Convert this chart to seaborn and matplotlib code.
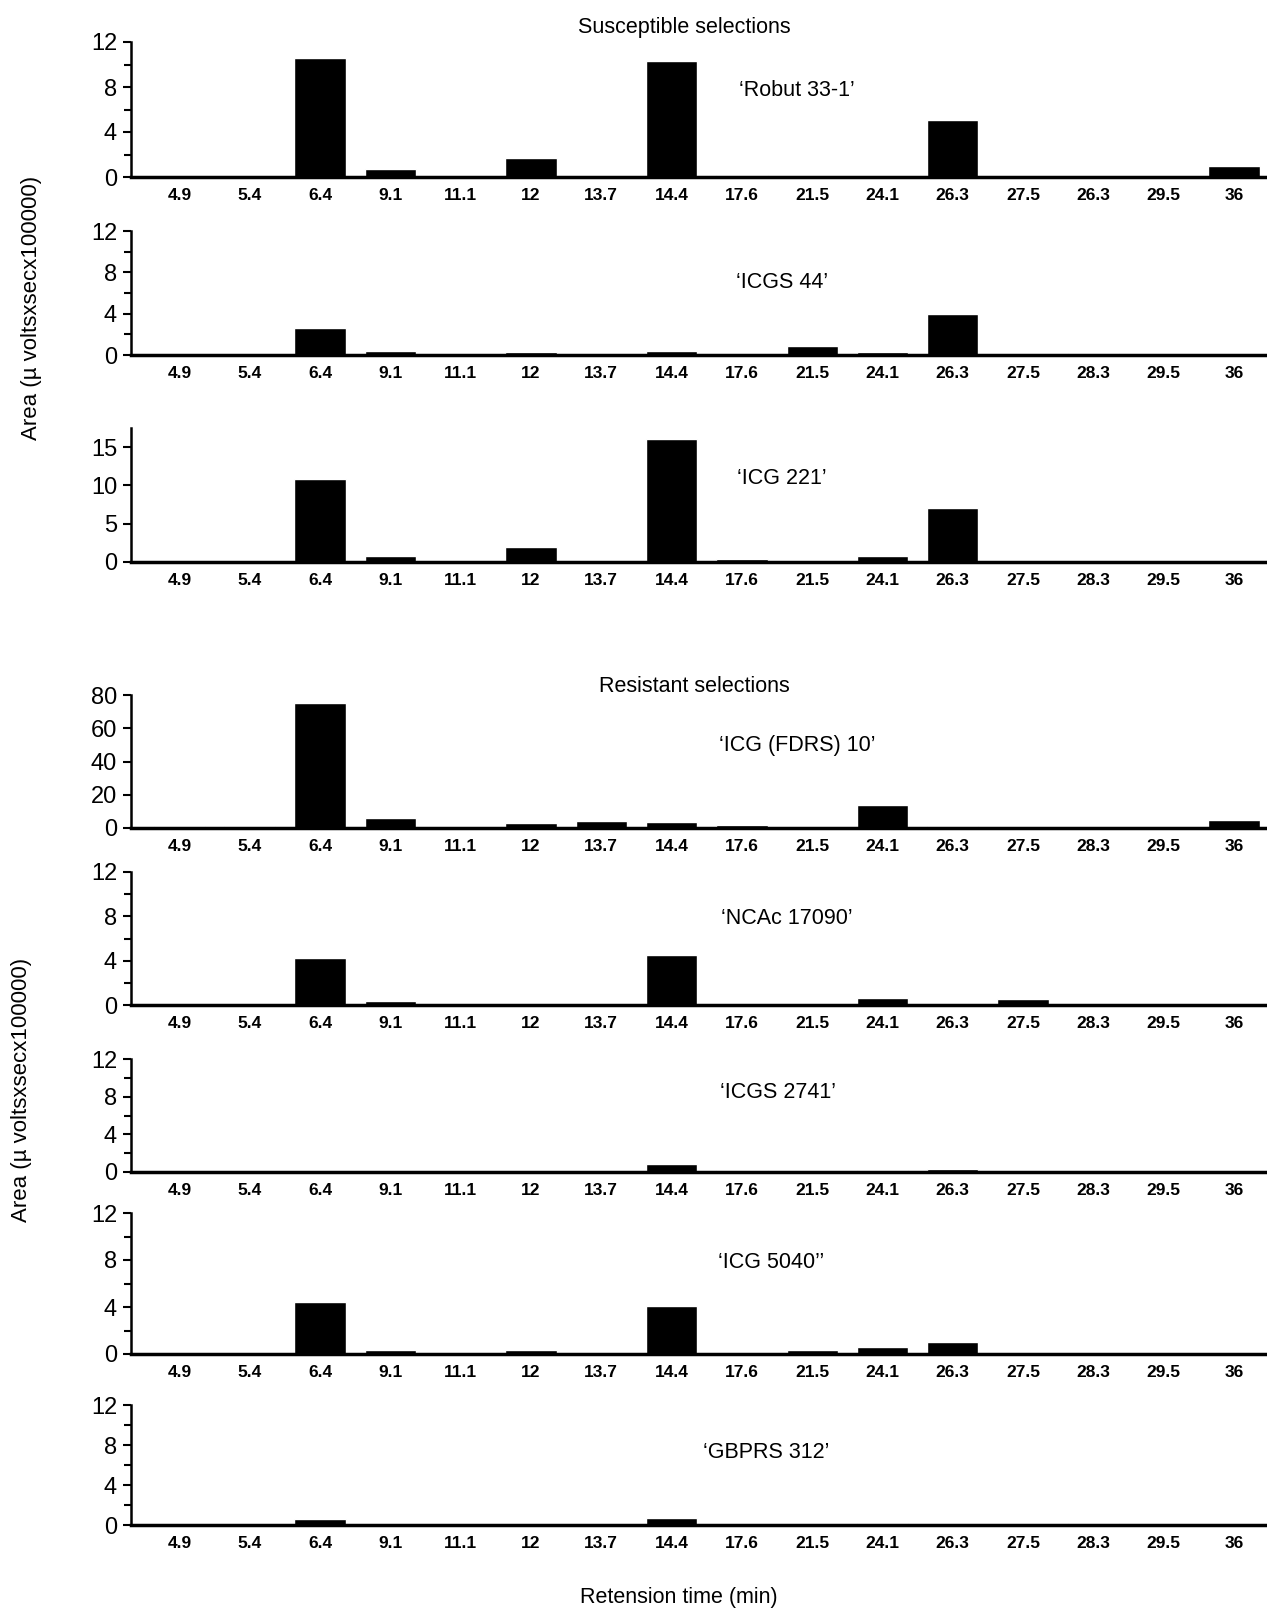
import numpy as np
import matplotlib
matplotlib.use('Agg')
import matplotlib.pyplot as plt
import seaborn as sns

sns.set_style('white')
plt.rcParams['font.family'] = ['Liberation Sans', 'DejaVu Sans']
plt.rcParams['text.color'] = 'black'
plt.rcParams['xtick.color'] = 'black'
plt.rcParams['ytick.color'] = 'black'

# retention-time labels (as printed under each panel)
labels_std = ['4.9', '5.4', '6.4', '9.1', '11.1', '12', '13.7', '14.4', '17.6',
              '21.5', '24.1', '26.3', '27.5', '28.3', '29.5', '36']
labels_p1 = ['4.9', '5.4', '6.4', '9.1', '11.1', '12', '13.7', '14.4', '17.6',
             '21.5', '24.1', '26.3', '27.5', '26.3', '29.5', '36']

# peak areas
robut_33_1 = [0.05, 0.05, 10.6, 0.7, 0.05, 1.7, 0.05, 10.3, 0.15, 0.05, 0.1, 5.1, 0.05, 0.05, 0.05, 1.0]
icgs_44 = [0.1, 0.05, 2.6, 0.4, 0.1, 0.3, 0.05, 0.4, 0.1, 0.9, 0.3, 4.0, 0.05, 0.2, 0.05, 0.05]
icg_221 = [0.05, 0.05, 10.8, 0.8, 0.05, 2.0, 0.05, 16.0, 0.4, 0.05, 0.8, 7.0, 0.05, 0.05, 0.05, 0.05]
icg_fdrs_10 = [1.0, 1.0, 75.0, 6.0, 0.5, 3.0, 4.0, 3.5, 2.0, 0.3, 14.0, 1.5, 0.5, 0.5, 0.5, 5.0]
ncac_17090 = [0.1, 0.05, 4.2, 0.4, 0.05, 0.1, 0.05, 4.5, 0.1, 0.05, 0.6, 0.05, 0.5, 0.05, 0.05, 0.05]
icgs_2741 = [0.05, 0.05, 0.05, 0.1, 0.05, 0.05, 0.05, 0.8, 0.2, 0.05, 0.2, 0.3, 0.05, 0.05, 0.1, 0.05]
icg_5040 = [0.1, 0.05, 4.4, 0.3, 0.1, 0.3, 0.05, 4.1, 0.05, 0.3, 0.6, 1.0, 0.05, 0.05, 0.05, 0.05]
gbprs_312 = [0.1, 0.05, 0.6, 0.05, 0.05, 0.05, 0.05, 0.7, 0.1, 0.05, 0.2, 0.05, 0.05, 0.2, 0.05, 0.05]

panel_names = ['\u2018Robut 33-1\u2019', '\u2018ICGS 44\u2019', '\u2018ICG 221\u2019',
               '\u2018ICG (FDRS) 10\u2019', '\u2018NCAc 17090\u2019', '\u2018ICGS 2741\u2019',
               '\u2018ICG 5040\u2019\u2019', '\u2018GBPRS 312\u2019']
panel_values = [robut_33_1, icgs_44, icg_221, icg_fdrs_10, ncac_17090, icgs_2741, icg_5040, gbprs_312]
panel_labels = [labels_p1] + [labels_std] * 7
panel_yticks = [[0, 4, 8, 12], [0, 4, 8, 12], [0, 5, 10, 15], [0, 20, 40, 60, 80],
                [0, 4, 8, 12], [0, 4, 8, 12], [0, 4, 8, 12], [0, 4, 8, 12]]

# layout (figure pixels: top of y range, baseline)
W, H = 1267, 1613
px_top = [42, 231, 428, 695, 872, 1059, 1213, 1405]
px_base = [177, 355, 562, 828, 1005, 1172, 1354, 1525]
ylims = [12, 12, 17.5, 80, 12, 12, 12, 12]
name_xy = [(797, 90), (782, 283), (782, 478), (797, 746), (787, 918), (778, 1093), (771, 1262), (766, 1453)]
left = 131

fig = plt.figure(figsize=(W / 100, H / 100), dpi=100)

for i in range(8):
    ax = fig.add_axes([left / W, 1 - px_base[i] / H, 1 - left / W,
                       (px_base[i] - px_top[i]) / H])
    x = np.arange(len(panel_values[i]))
    sns.barplot(x=x, y=panel_values[i], color='black', width=0.73,
                saturation=1, ax=ax)
    ax.set_xlim(-0.69, 15.47)
    ax.set_ylim(0, ylims[i])
    ax.set_xticks(x)
    ax.set_xticklabels(panel_labels[i], fontsize=12.5, fontweight='bold')
    ax.set_yticks(panel_yticks[i])
    ax.set_yticklabels([str(t) for t in panel_yticks[i]], fontsize=17)
    if panel_yticks[i][-1] == 12:
        ax.set_yticks([2, 6, 10], minor=True)
    ax.tick_params(axis='x', length=0, pad=8)
    ax.tick_params(axis='y', which='major', left=True, direction='out',
                   length=6, width=1.5, pad=4)
    ax.tick_params(axis='y', which='minor', left=True, direction='out',
                   length=5, width=1.5)
    for s in ['top', 'right']:
        ax.spines[s].set_visible(False)
    ax.spines['left'].set_linewidth(1.8)
    ax.spines['bottom'].set_linewidth(2.5)
    ax.spines['left'].set_color('black')
    ax.spines['bottom'].set_color('black')
    ax.set_xlabel('')
    ax.set_ylabel('')
    nx, ny = name_xy[i]
    fig.text(nx / W, 1 - ny / H, panel_names[i], fontsize=15.5, ha='center', va='center')

fig.text(684 / W, 1 - 27 / H, 'Susceptible selections', fontsize=15.5, ha='center', va='center')
fig.text(694 / W, 1 - 686 / H, 'Resistant selections', fontsize=15.5, ha='center', va='center')
fig.text(32 / W, 1 - 308 / H, 'Area (\u00b5 voltsxsecx100000)', fontsize=16,
         rotation=90, ha='center', va='center')
fig.text(22 / W, 1 - 1090 / H, 'Area (\u00b5 voltsxsecx100000)', fontsize=16,
         rotation=90, ha='center', va='center')
fig.text(679 / W, 1 - 1597 / H, 'Retension time (min)', fontsize=15.5, ha='center', va='center')

fig.savefig('out.png', dpi=100)
